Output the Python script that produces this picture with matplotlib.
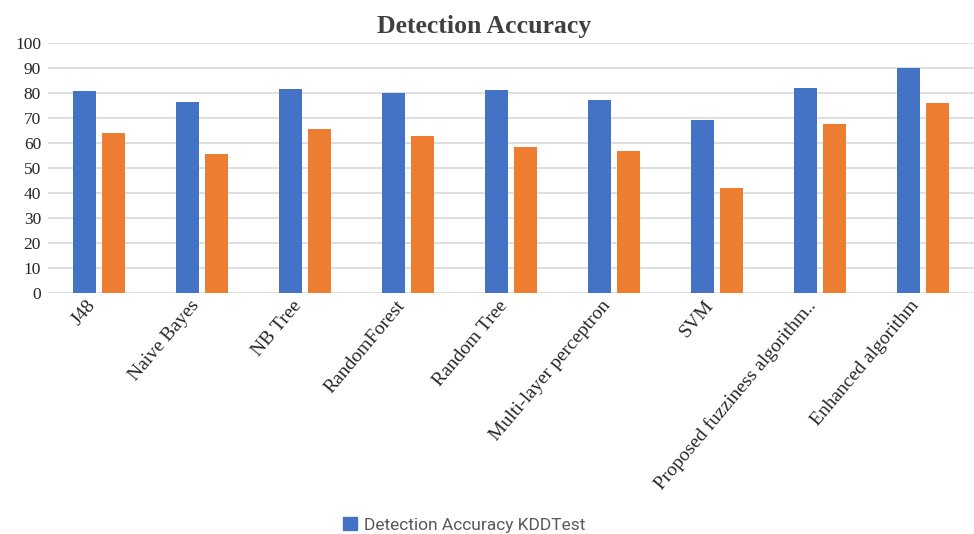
import matplotlib
matplotlib.use("Agg")
import matplotlib.pyplot as plt
from matplotlib.patches import Patch
import numpy as np

CATEGORIES = [
    "J48",
    "Naive Bayes",
    "NB Tree",
    "RandomForest",
    "Random Tree",
    "Multi-layer perceptron",
    "SVM",
    "Proposed fuzziness algorithm..",
    "Enhanced algorithm",
]
KDD_TEST = [80.8, 76.3, 81.7, 79.9, 81.2, 77.2, 69.3, 82.1, 89.9]
KDD_TEST_21 = [63.9, 55.6, 65.7, 62.9, 58.4, 56.9, 41.9, 67.5, 76.1]
Y_TICKS = [0, 10, 20, 30, 40, 50, 60, 70, 80, 90, 100]

BLUE = "#4472C4"
ORANGE = "#ED7D31"
SERIF = "Liberation Serif"

fig = plt.figure(figsize=(9.74, 5.34), dpi=100)
ax = fig.add_axes([48 / 974, 1 - 293 / 534, 926 / 974, 250 / 534])

x = np.arange(len(CATEGORIES))
w = 0.223
off = 0.141
ax.bar(x - off, KDD_TEST, width=w, color=BLUE, zorder=3)
ax.bar(x + off, KDD_TEST_21, width=w, color=ORANGE, zorder=3)

ax.set_xlim(-0.5, len(CATEGORIES) - 0.5)
ax.set_ylim(0, 100)
ax.set_yticks(Y_TICKS)
ax.set_yticklabels([str(v) for v in Y_TICKS], family=SERIF, fontsize=12.5, color="#262626")
ax.set_xticks(x)
ax.set_xticklabels(CATEGORIES, family=SERIF, fontsize=14, color="#262626",
                   rotation=50, ha="right", va="top")
ax.tick_params(axis="both", length=0)
ax.tick_params(axis="y", pad=5)
ax.tick_params(axis="x", pad=3)
ax.grid(axis="y", color="#d9d9d9", lw=1.2, zorder=0)
for s in ax.spines.values():
    s.set_visible(False)

fig.text(0.497, 0.951, "Detection Accuracy", family=SERIF, fontsize=18.5,
         fontweight="bold", color="#404040", ha="center", va="center")

fig.legend(handles=[Patch(color=BLUE, label="Detection Accuracy KDDTest")],
           loc="center", bbox_to_anchor=(0.477, 1 - 525 / 534), frameon=False,
           prop={"family": "Roboto", "size": 12.5}, labelcolor="#595959",
           handlelength=0.8, handleheight=0.8, handletextpad=0.4)

fig.savefig("out.png", dpi=100)
